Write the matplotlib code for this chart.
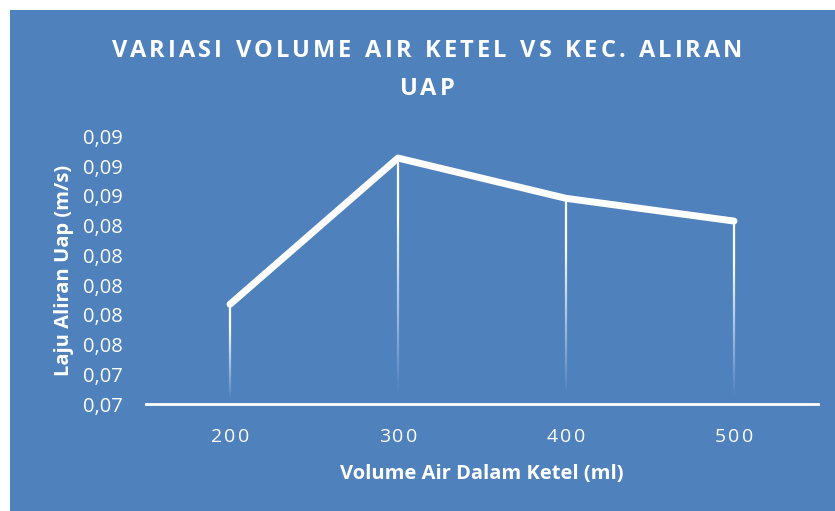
import matplotlib
matplotlib.use("Agg")
import matplotlib.pyplot as plt
import numpy as np
from matplotlib.collections import LineCollection
from matplotlib.patches import Rectangle
from matplotlib.ticker import FixedLocator, FuncFormatter

categories = ["200", "300", "400", "500"]
values = [0.07871, 0.08855, 0.08584, 0.08431]
y_ticks = [0.072, 0.074, 0.076, 0.078, 0.080, 0.082, 0.084, 0.086, 0.088, 0.090]
title_lines = ["VARIASI VOLUME AIR KETEL VS KEC. ALIRAN", "UAP"]

BLUE = "#4F81BD"
FONT = ["Open Sans", "DejaVu Sans"]

W, H = 835, 511
fig = plt.figure(figsize=(W / 100, H / 100), dpi=100)
fig.patch.set_facecolor("white")
bg = Rectangle((10 / W, 0), 1 - 10 / W, 1 - 10 / H, transform=fig.transFigure,
               facecolor=BLUE, edgecolor="none", zorder=-10)
fig.add_artist(bg)

ax = fig.add_axes([146 / W, 1 - 404 / H, (818 - 146) / W, (404 - 136.5) / H])
ax.set_zorder(5)
ax.set_facecolor("none")
x = np.arange(len(categories))
ax.set_xlim(-0.5, len(categories) - 0.5)
ax.set_ylim(y_ticks[0], y_ticks[-1])

for xi, v in zip(x, values):
    n = 80
    ys = np.linspace(y_ticks[0], v, n + 1)
    segs = [[(xi, ys[i]), (xi, ys[i + 1])] for i in range(n)]
    alphas = np.clip(np.linspace(-0.05, 1.3, n), 0, 1)
    cols = [(1, 1, 1, a) for a in alphas]
    ax.add_collection(LineCollection(segs, colors=cols, linewidths=1.6, zorder=2))

ax.plot(x, values, color="white", lw=5, solid_capstyle="round", solid_joinstyle="round", zorder=3)

for s in ["top", "right", "left"]:
    ax.spines[s].set_visible(False)
ax.spines["bottom"].set_color("white")
ax.spines["bottom"].set_linewidth(2)

ax.set_xticks(x)
ax.set_xticklabels([])
ax.yaxis.set_major_locator(FixedLocator(y_ticks))
ax.yaxis.set_major_formatter(FuncFormatter(lambda v, p: f"{v:.2f}".replace(".", ",")))
ax.tick_params(axis="both", length=0, colors="white", labelsize=14.5)
ax.tick_params(axis="y", pad=16.5)
for lab in ax.get_yticklabels():
    lab.set_family(FONT)

ax.set_xlabel("Volume Air Dalam Ketel (ml)", color="white", fontsize=14.5, fontweight="bold",
              family=FONT, labelpad=40)
ax.set_ylabel("Laju Aliran Uap (m/s)", color="white", fontsize=14.5, fontweight="bold",
              family=FONT, labelpad=7)

fig.canvas.draw()
renderer = fig.canvas.get_renderer()


def char_widths(s, size, weight):
    out = []
    for ch in s:
        t = fig.text(0, 0, ch if ch != " " else "a", fontsize=size, fontweight=weight, family=FONT)
        wbb = t.get_window_extent(renderer).width
        if ch == " ":
            wbb *= 0.55
        out.append(wbb)
        t.remove()
    return out


# x tick labels with letter spacing
xt_track = 2.5
for xi, lab in zip(x, categories):
    ws = char_widths(lab, 14, "normal")
    total = sum(ws) + xt_track * (len(lab) - 1)
    xpix = ax.transData.transform((xi, y_ticks[0]))[0] - total / 2
    for ch, wch in zip(lab, ws):
        fig.text(xpix / W, 1 - 437 / H, ch, ha="left", va="center", color="white",
                 fontsize=14, family=FONT)
        xpix += wch + xt_track

# title with letter spacing
tracking = 3.0
cx = 427
for line, ypix in zip(title_lines, [51, 89]):
    widths = char_widths(line, 17, "bold")
    total = sum(widths) + tracking * (len(line) - 1)
    xpos = cx - total / 2
    for ch, wch in zip(line, widths):
        if ch != " ":
            fig.text(xpos / W, 1 - ypix / H, ch, ha="left", va="center", color="white",
                     fontsize=17, fontweight="bold", family=FONT)
        xpos += wch + tracking

fig.savefig("out.png", dpi=100, facecolor=fig.get_facecolor())
